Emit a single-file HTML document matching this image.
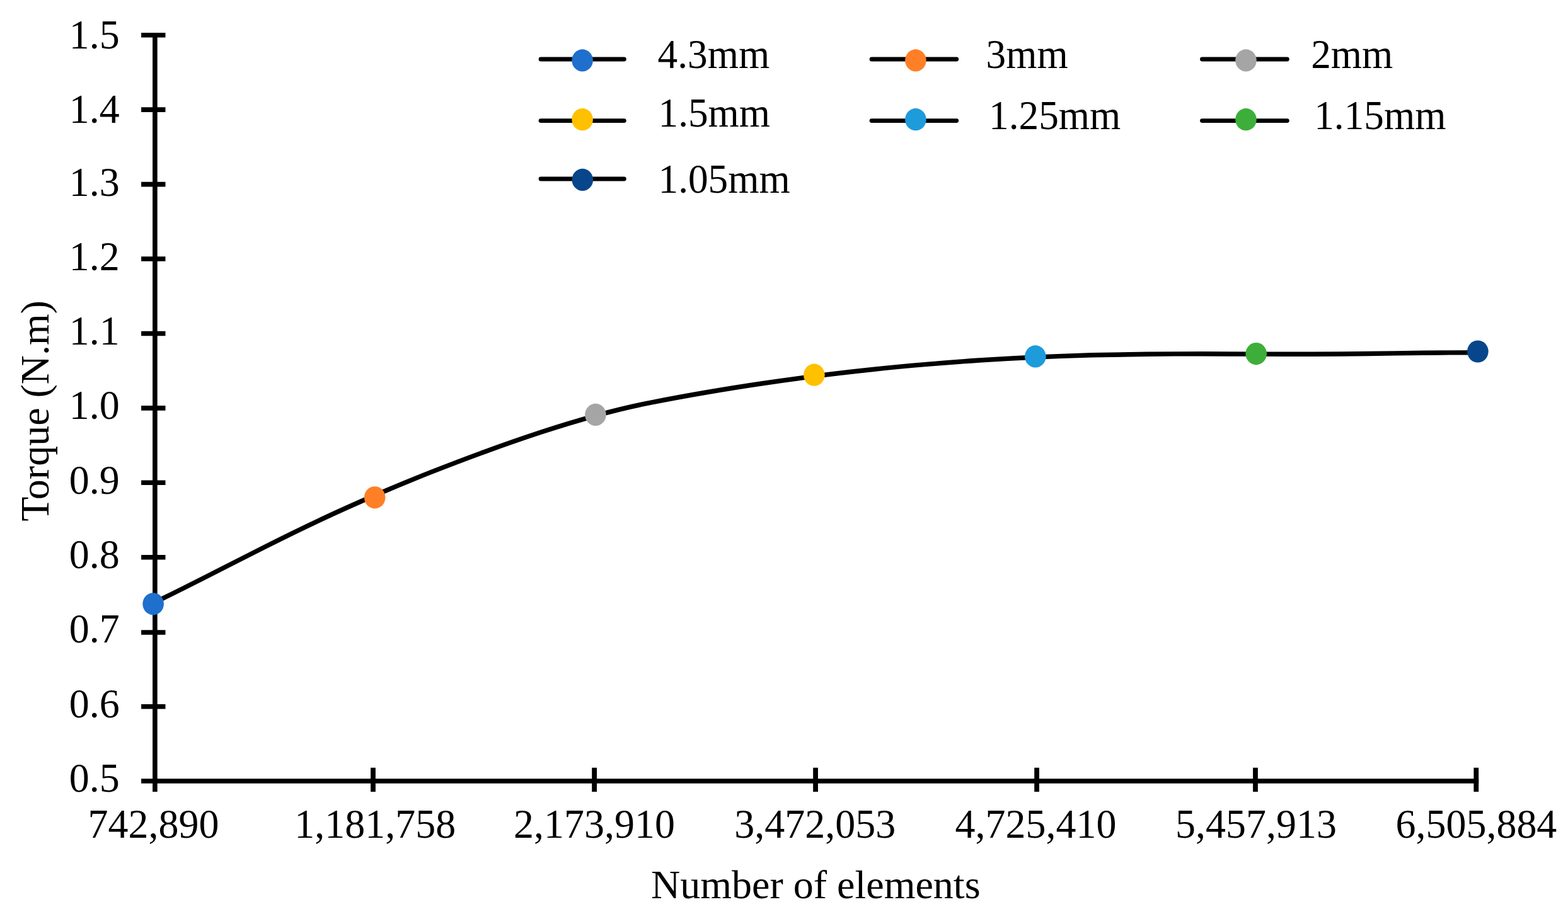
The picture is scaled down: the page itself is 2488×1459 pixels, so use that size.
<!DOCTYPE html>
<html lang="en">
<head>
<meta charset="utf-8">
<title>Torque vs number of elements</title>
<style>
html,body{margin:0;padding:0;background:#fff;}
body{width:2488px;height:1459px;overflow:hidden;}
svg{display:block;}
text{font-family:"Liberation Serif","DejaVu Serif",serif;font-size:64px;fill:#000;}
.ax{stroke:#000;stroke-width:7.6;fill:none;}
.tk{stroke:#000;stroke-width:7.8;fill:none;}
.cv{stroke:#000;stroke-width:7.4;fill:none;stroke-linecap:round;stroke-linejoin:round;}
.lg{stroke:#000;stroke-width:6.9;fill:none;stroke-linecap:round;}
.lt{font-size:63.3px;}
</style>
</head>
<body>
<svg width="2488" height="1459" viewBox="0 0 2488 1459">
<rect width="2488" height="1459" fill="#fff"/>
<!-- axes -->
<g class="ax">
<line x1="245.90" y1="51.9" x2="245.90" y2="1257.0"/>
<line x1="224.1" y1="1239.95" x2="2346.2" y2="1239.95"/>
<line x1="224.1" y1="55.7" x2="262.5" y2="55.7"/>
<line x1="224.1" y1="174.1" x2="262.5" y2="174.1"/>
<line x1="224.1" y1="292.6" x2="262.5" y2="292.6"/>
<line x1="224.1" y1="411.0" x2="262.5" y2="411.0"/>
<line x1="224.1" y1="529.5" x2="262.5" y2="529.5"/>
<line x1="224.1" y1="647.9" x2="262.5" y2="647.9"/>
<line x1="224.1" y1="766.3" x2="262.5" y2="766.3"/>
<line x1="224.1" y1="884.8" x2="262.5" y2="884.8"/>
<line x1="224.1" y1="1004.0" x2="262.5" y2="1004.0"/>
<line x1="224.1" y1="1121.7" x2="262.5" y2="1121.7"/>
</g>
<g class="tk">
<line x1="592.00" y1="1218.8" x2="592.00" y2="1257.0"/>
<line x1="943.10" y1="1218.8" x2="943.10" y2="1257.0"/>
<line x1="1294.05" y1="1218.8" x2="1294.05" y2="1257.0"/>
<line x1="1645.10" y1="1218.8" x2="1645.10" y2="1257.0"/>
<line x1="1992.00" y1="1218.8" x2="1992.00" y2="1257.0"/>
<line x1="2342.30" y1="1218.8" x2="2342.30" y2="1257.0"/>
</g>
<!-- y tick labels -->
<g text-anchor="end">
<text transform="translate(189.8 77.3) scale(1 1.035)">1.5</text>
<text transform="translate(189.8 195.3) scale(1 1.035)">1.4</text>
<text transform="translate(189.8 310.6) scale(1 1.035)">1.3</text>
<text transform="translate(189.8 428.8) scale(1 1.035)">1.2</text>
<text transform="translate(189.8 547.4) scale(1 1.035)">1.1</text>
<text transform="translate(189.8 665.4) scale(1 1.035)">1.0</text>
<text transform="translate(189.8 783.9) scale(1 1.035)">0.9</text>
<text transform="translate(189.8 902.0) scale(1 1.035)">0.8</text>
<text transform="translate(189.8 1020.4) scale(1 1.035)">0.7</text>
<text transform="translate(189.8 1138.8) scale(1 1.035)">0.6</text>
<text transform="translate(189.8 1257.0) scale(1 1.035)">0.5</text>
</g>
<!-- x tick labels -->
<g text-anchor="middle">
<text transform="translate(243.5 1330.2) scale(1 1.035)">742,890</text>
<text transform="translate(595.2 1330.2) scale(1 1.035)">1,181,758</text>
<text transform="translate(943.0 1330.2) scale(1 1.035)">2,173,910</text>
<text transform="translate(1293.3 1330.2) scale(1 1.035)">3,472,053</text>
<text transform="translate(1643.5 1330.2) scale(1 1.035)">4,725,410</text>
<text transform="translate(1993.0 1330.2) scale(1 1.035)">5,457,913</text>
<text transform="translate(2342.4 1330.2) scale(1 1.035)">6,505,884</text>
<text x="1294.3" y="1426">Number of elements</text>
<text transform="translate(77.1 652.3) rotate(-90)">Torque (N.m)</text>
</g>
<!-- data series -->
<path class="cv" d="M245.9 956.2 C275.0 942.0 304.2 927.3 333.3 912.5 C362.5 897.7 391.6 882.7 420.8 868.0 C449.9 853.3 479.1 839.0 508.2 825.3 C537.4 811.6 566.5 798.6 595.7 786.0 C624.8 773.5 654.0 761.4 683.1 749.9 C712.3 738.4 741.4 727.3 770.5 716.7 C799.7 706.1 828.8 695.9 858.0 686.3 C887.1 676.8 916.3 667.9 945.4 659.9 C974.6 651.8 1003.7 644.8 1032.9 639.1 C1062.0 633.3 1091.2 628.0 1120.3 623.0 C1149.5 618.0 1178.6 613.3 1207.8 609.0 C1236.9 604.6 1266.1 600.6 1295.2 596.9 C1324.3 593.1 1353.5 589.8 1382.6 586.7 C1411.8 583.6 1440.9 580.8 1470.1 578.4 C1499.2 575.9 1528.4 573.7 1557.5 571.8 C1586.7 569.9 1615.8 568.3 1645.0 567.0 C1674.1 565.7 1703.3 564.6 1732.4 563.8 C1761.6 563.0 1790.7 562.5 1819.8 562.2 C1849.0 561.9 1878.1 561.8 1907.3 561.8 C1936.4 561.9 1965.6 562.0 1994.7 562.1 C2023.9 562.3 2053.0 562.3 2082.2 562.3 C2111.3 562.2 2140.5 561.9 2169.6 561.5 C2198.8 561.1 2227.9 560.6 2257.1 560.3 C2286.2 559.9 2315.4 559.7 2344.5 559.8"/>
<ellipse cx="243.15" cy="958.80" rx="16.8" ry="17.6" fill="#1f6fcc"/>
<ellipse cx="594.70" cy="789.80" rx="16.8" ry="17.6" fill="#ff7f27"/>
<ellipse cx="944.97" cy="658.40" rx="16.8" ry="17.6" fill="#a5a5a5"/>
<ellipse cx="1291.87" cy="595.20" rx="16.8" ry="17.6" fill="#ffc000"/>
<ellipse cx="1642.87" cy="565.90" rx="16.8" ry="17.6" fill="#1e9bdb"/>
<ellipse cx="1993.20" cy="561.60" rx="16.8" ry="17.6" fill="#3dae3a"/>
<ellipse cx="2344.86" cy="558.00" rx="16.8" ry="17.6" fill="#07468a"/>
<!-- legend -->
<line class="lg" x1="858.1" y1="94.0" x2="990.3" y2="94.0"/>
<ellipse cx="924.1" cy="95.9" rx="16.8" ry="17.6" fill="#1f6fcc"/>
<text class="lt" transform="translate(1043.6 107.6) scale(1 1.03)">4.3mm</text>
<line class="lg" x1="1383.1" y1="94.0" x2="1517.7" y2="94.0"/>
<ellipse cx="1452.9" cy="95.9" rx="16.8" ry="17.6" fill="#ff7f27"/>
<text class="lt" transform="translate(1564.6 107.6) scale(1 1.03)">3mm</text>
<line class="lg" x1="1907.5" y1="94.0" x2="2042.3" y2="94.0"/>
<ellipse cx="1977.0" cy="95.9" rx="16.8" ry="17.6" fill="#a5a5a5"/>
<text class="lt" transform="translate(2080.2 107.6) scale(1 1.03)">2mm</text>
<line class="lg" x1="858.1" y1="191.6" x2="990.3" y2="191.6"/>
<ellipse cx="924.1" cy="189.7" rx="16.8" ry="17.6" fill="#ffc000"/>
<text class="lt" transform="translate(1044.5 200.7) scale(1 1.03)">1.5mm</text>
<line class="lg" x1="1383.1" y1="191.6" x2="1517.7" y2="191.6"/>
<ellipse cx="1452.9" cy="189.7" rx="16.8" ry="17.6" fill="#1e9bdb"/>
<text class="lt" transform="translate(1569.1 205.2) scale(1 1.03)">1.25mm</text>
<line class="lg" x1="1907.5" y1="191.6" x2="2042.3" y2="191.6"/>
<ellipse cx="1977.0" cy="189.7" rx="16.8" ry="17.6" fill="#3dae3a"/>
<text class="lt" transform="translate(2085.2 205.2) scale(1 1.03)">1.15mm</text>
<line class="lg" x1="858.1" y1="284.0" x2="990.3" y2="284.0"/>
<ellipse cx="924.3" cy="285.4" rx="16.8" ry="17.6" fill="#07468a"/>
<text class="lt" transform="translate(1044.5 305.7) scale(1 1.03)">1.05mm</text>
</svg>
</body>
</html>
